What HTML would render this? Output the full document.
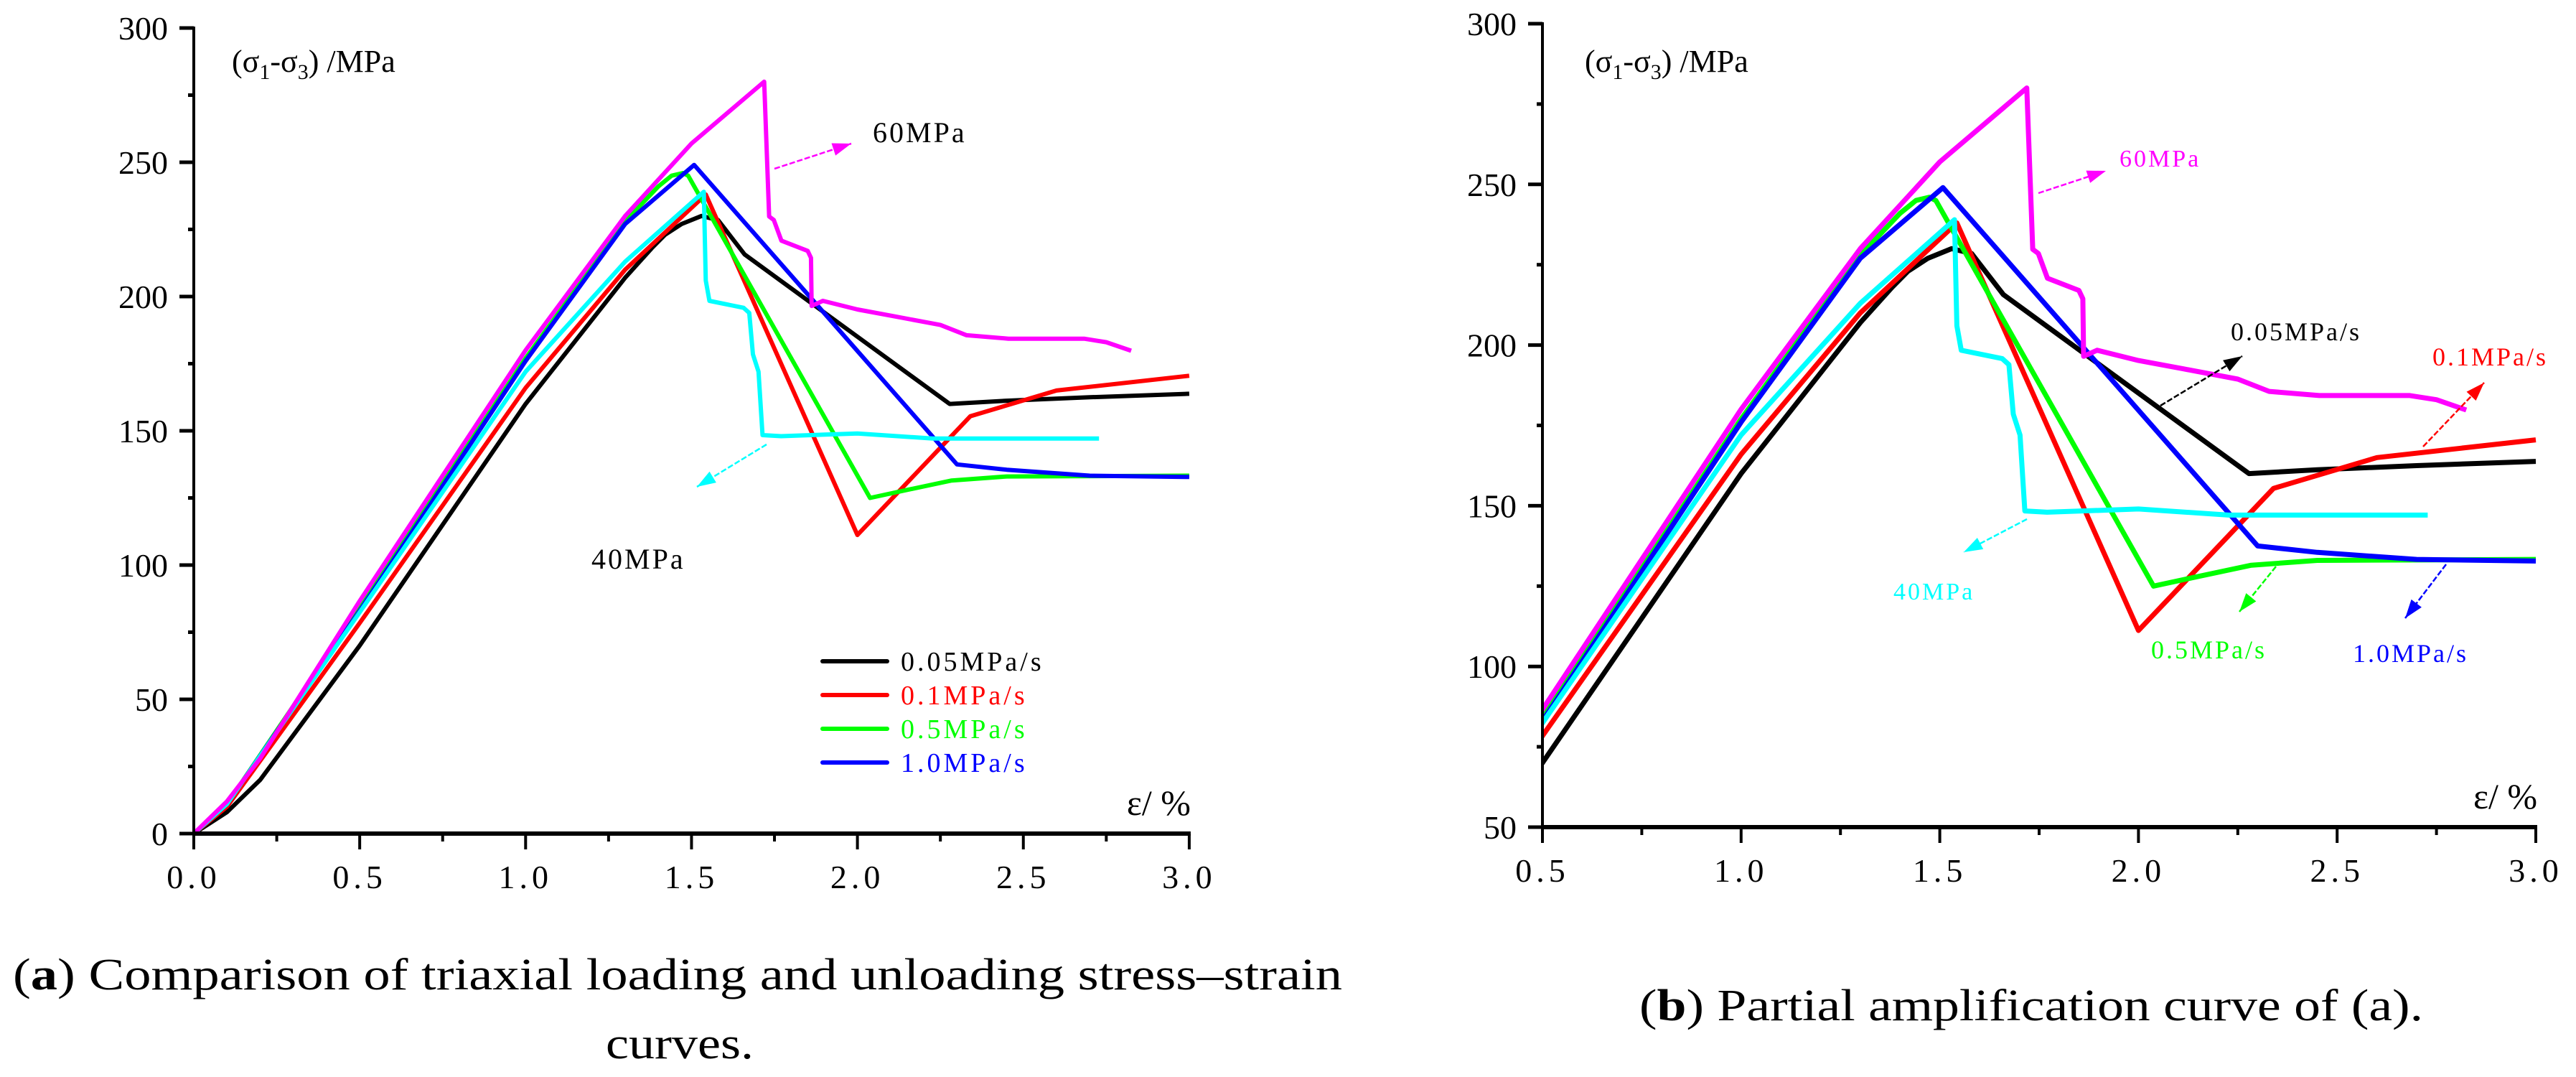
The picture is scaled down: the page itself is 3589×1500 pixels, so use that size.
<!DOCTYPE html>
<html><head><meta charset="utf-8"><style>
html,body{margin:0;padding:0;background:#fff;}
svg{display:block;}
text{font-family:"Liberation Serif","Noto Serif CJK SC",serif;}
</style></head><body>
<svg id="fig" width="3589" height="1500" viewBox="0 0 3589 1500" xmlns="http://www.w3.org/2000/svg">
<defs>
<clipPath id="clipB"><rect x="2149" y="0" width="1440" height="1152"/></clipPath>
</defs>
<g id="panelA"></g>
<g id="panelB"></g>
<g id="annot"></g>
<text x="18" y="1378" font-size="62" textLength="1852" lengthAdjust="spacingAndGlyphs">(<tspan font-weight="bold">a</tspan>) Comparison of triaxial loading and unloading stress–strain</text>
<text x="844" y="1474" font-size="62" textLength="206" lengthAdjust="spacingAndGlyphs">curves.</text>
<text x="2284" y="1421" font-size="62" textLength="1092" lengthAdjust="spacingAndGlyphs">(<tspan font-weight="bold">b</tspan>) Partial amplification curve of (a).</text>
</svg>
<script>
// ---- data (strain %, deviatoric stress MPa) ----
const strain005 = [0,0.1,0.2,0.5,1.0,1.3,1.38,1.42,1.47,1.53,1.58,1.66,2.278,2.45,2.7,3.0];
const stress005 = [0,8,20,70,160,207,218,223,227,230,228.5,215.7,160,161.2,162.5,163.8];
const strain01 = [0,0.1,0.5,1.0,1.3,1.543,2.0,2.34,2.6,3.0];
const stress01 = [0,10,78.4,166,210,238,111.2,155.4,165,170.5];
const strain05 = [0,0.1,0.5,1.0,1.3,1.4,1.44,1.474,1.49,2.038,2.15,2.284,2.45,3.0];
const stress05 = [0,11,84,177,228,241,245,246,245,125,128,131.5,133,133.3];
const strain10 = [0,0.1,0.5,1.0,1.3,1.508,2.30,2.45,2.7,3.0];
const stress10 = [0,11,83,176,227,249,137.5,135.5,133.3,132.8];
const strain40 = [0,0.1,0.5,1.0,1.3,1.537,1.543,1.554,1.657,1.674,1.685,1.702,1.714,1.77,2.0,2.227,2.455,2.728];
const stress40 = [0,11,82.4,172,213,239,206,198.4,195.8,193.9,178.5,172,148.4,148,149,147.1,147.1,147.1];
const strain60 = [0,0.1,0.2,0.5,1.0,1.3,1.5,1.719,1.734,1.748,1.771,1.85,1.86,1.862,1.896,2.0,2.113,2.25,2.329,2.455,2.683,2.75,2.825];
const stress60 = [0,12,28,86.6,180,230,257,280,229.8,228.5,220.8,217,214.4,196.5,198.4,195.2,192.6,189.4,185.6,184.3,184.3,183,179.8];
const xTicksA = ["0.0","0.5","1.0","1.5","2.0","2.5","3.0"];
const yTicksA = ["0","50","100","150","200","250","300"];
const xTicksB = ["0.5","1.0","1.5","2.0","2.5","3.0"];
const yTicksB = ["50","100","150","200","250","300"];
const seriesNames = ["0.05MPa/s","0.1MPa/s","0.5MPa/s","1.0MPa/s"];

const NS="http://www.w3.org/2000/svg";
function mk(tag, parent){const e=document.createElementNS(NS,tag);parent.appendChild(e);return e;}
const series=[
 {n:'curve-0.05mpa-s',x:strain005,y:stress005,c:'#000000'},
 {n:'curve-0.1mpa-s',x:strain01,y:stress01,c:'#ff0000'},
 {n:'curve-0.5mpa-s',x:strain05,y:stress05,c:'#00ff00'},
 {n:'curve-1.0mpa-s',x:strain10,y:stress10,c:'#0000ff'},
 {n:'curve-40mpa',x:strain40,y:stress40,c:'#00ffff'},
 {n:'curve-60mpa',x:strain60,y:stress60,c:'#ff00ff'}
];

function drawPanel(g, cfg){
  const sx=v=>cfg.x0+(v-cfg.xmin)*cfg.px;
  const sy=v=>cfg.y0-(v-cfg.ymin)*cfg.py;
  const cg=mk('g',g);
  
  
  if(cfg.clip) cg.setAttribute('clip-path','url(#'+cfg.clip+')');
  series.forEach(s=>{
    const p=mk('polyline',cg);
    
    
    p.setAttribute('points',s.x.map((v,i)=>sx(v).toFixed(1)+','+sy(s.y[i]).toFixed(1)).join(' '));
    p.setAttribute('fill','none');p.setAttribute('stroke',s.c);
    p.setAttribute('stroke-width',cfg.lw);p.setAttribute('stroke-linejoin','round');
  });
  const xmax=cfg.xmin+(cfg.xt.length-1)*0.5;
  const ymax=+cfg.yt[cfg.yt.length-1];
  const ax=mk('line',g);
  
  
  ax.setAttribute('x1',sx(cfg.xmin));ax.setAttribute('x2',sx(cfg.xmin));
  ax.setAttribute('y1',sy(ymax)-2);ax.setAttribute('y2',sy(cfg.ymin)+2);
  ax.setAttribute('stroke','#000');ax.setAttribute('stroke-width',4);
  const bx=mk('line',g);
  
  
  bx.setAttribute('x1',sx(cfg.xmin)-2);bx.setAttribute('x2',sx(xmax)+2);
  bx.setAttribute('y1',sy(cfg.ymin));bx.setAttribute('y2',sy(cfg.ymin));
  bx.setAttribute('stroke','#000');bx.setAttribute('stroke-width',6);
  cfg.yt.forEach((t,i)=>{
    const v=+t, y=sy(v);
    const tk=mk('line',g);
    
    
    tk.setAttribute('x1',sx(cfg.xmin)-20);tk.setAttribute('x2',sx(cfg.xmin));
    tk.setAttribute('y1',y);tk.setAttribute('y2',y);tk.setAttribute('stroke','#000');tk.setAttribute('stroke-width',5);
    if(i<cfg.yt.length-1){
      const m=mk('line',g);
      
      
      m.setAttribute('x1',sx(cfg.xmin)-8);m.setAttribute('x2',sx(cfg.xmin));
      m.setAttribute('y1',sy(v+25));m.setAttribute('y2',sy(v+25));m.setAttribute('stroke','#000');m.setAttribute('stroke-width',5);
    }
    const tx=mk('text',g);
    
    
    tx.setAttribute('x',sx(cfg.xmin)-36);tx.setAttribute('y',y+16);
    tx.setAttribute('text-anchor','end');tx.setAttribute('font-size',46);
    tx.textContent=t;
  });
  cfg.xt.forEach((t,i)=>{
    const v=+t, x=sx(v);
    const tk=mk('line',g);
    
    
    tk.setAttribute('x1',x);tk.setAttribute('x2',x);
    tk.setAttribute('y1',sy(cfg.ymin));tk.setAttribute('y2',sy(cfg.ymin)+22);tk.setAttribute('stroke','#000');tk.setAttribute('stroke-width',4);
    if(i<cfg.xt.length-1){
      const m=mk('line',g);
      
      
      m.setAttribute('x1',sx(v+0.25));m.setAttribute('x2',sx(v+0.25));
      m.setAttribute('y1',sy(cfg.ymin));m.setAttribute('y2',sy(cfg.ymin)+11);m.setAttribute('stroke','#000');m.setAttribute('stroke-width',4);
    }
    const tx=mk('text',g);
    
    
    tx.setAttribute('x',x);tx.setAttribute('y',sy(cfg.ymin)+cfg.xlabOff);
    tx.setAttribute('text-anchor','middle');tx.setAttribute('font-size',46);
    tx.setAttribute('letter-spacing','6');
    tx.textContent=t;
  });
  const yt=mk('text',g);
  
  
  yt.setAttribute('x',sx(cfg.xmin)+cfg.ytOff);yt.setAttribute('y',100);yt.setAttribute('font-size',44);
  yt.innerHTML='(σ<tspan font-size="30" dy="10">1</tspan><tspan dy="-10">-σ</tspan><tspan font-size="30" dy="10">3</tspan><tspan dy="-10">)  /MPa</tspan>';
  const xtl=mk('text',g);
  
  
  xtl.setAttribute('x',sx(xmax)+2);xtl.setAttribute('y',sy(cfg.ymin)-cfg.xtOff);
  xtl.setAttribute('text-anchor','end');xtl.setAttribute('font-size',50);
  xtl.textContent='ε/ %';
}

drawPanel(document.getElementById('panelA'),{x0:270,y0:1161,xmin:0,ymin:0,px:462.3,py:3.74,xt:xTicksA,yt:yTicksA,lw:6,xlabOff:76,ytOff:53,xtOff:26});
drawPanel(document.getElementById('panelB'),{x0:2149,y0:1152,xmin:0.5,ymin:50,px:553.6,py:4.476,xt:xTicksB,yt:yTicksB,lw:7,xlabOff:76,ytOff:59,xtOff:26,clip:'clipB'});

const lg=mk('g',document.getElementById('panelA'));


seriesNames.forEach((nm,i)=>{
  const y=921+i*47, c=series[i].c;
  const l=mk('line',lg);
  
  
  l.setAttribute('x1',1146);l.setAttribute('x2',1236);l.setAttribute('y1',y);l.setAttribute('y2',y);
  l.setAttribute('stroke',c);l.setAttribute('stroke-width',6);l.setAttribute('stroke-linecap','round');
  const t=mk('text',lg);
  
  
  t.setAttribute('x',1255);t.setAttribute('y',y+13);t.setAttribute('font-size',38);t.setAttribute('letter-spacing','4');
  t.setAttribute('fill',c);t.textContent=nm;
});

const ann=document.getElementById('annot');
function arrow(x1,y1,x2,y2,c,name){
  const g=mk('g',ann);
  
  
  const l=mk('line',g);
  l.setAttribute('x1',x1);l.setAttribute('y1',y1);l.setAttribute('x2',x2);l.setAttribute('y2',y2);
  l.setAttribute('stroke',c);l.setAttribute('stroke-width',2.5);l.setAttribute('stroke-dasharray','8 3');
  const a=Math.atan2(y2-y1,x2-x1),L=26,W=9;
  const bx=x2-L*Math.cos(a),by=y2-L*Math.sin(a);
  const p=mk('polygon',g);
  p.setAttribute('points',[x2,y2,bx+W*Math.sin(a),by-W*Math.cos(a),bx-W*Math.sin(a),by+W*Math.cos(a)].join(','));
  p.setAttribute('fill',c);
}
function label(x,y,txt,c,fs,name){
  const t=mk('text',ann);
  
  
  t.setAttribute('x',x);t.setAttribute('y',y);t.setAttribute('font-size',fs);t.setAttribute('fill',c);t.setAttribute('letter-spacing','3');
  t.textContent=txt;
}
arrow(1079,235,1186,200,'#ff00ff','arrow-60mpa-a');
label(1216,198,'60MPa','#000',40,'label-60mpa-a');
arrow(1068,619,971,678,'#00ffff','arrow-40mpa-a');
label(824,792,'40MPa','#000',40,'label-40mpa-a');
arrow(2840,269,2934,238,'#ff00ff','arrow-60mpa-b');
label(2953,232,'60MPa','#ff00ff',34,'label-60mpa-b');
arrow(3010,565,3124,496,'#000','arrow-0.05mpa-s-b');
label(3108,474,'0.05MPa/s','#000',36,'label-0.05mpa-s-b');
arrow(3376,622,3461,533,'#ff0000','arrow-0.1mpa-s-b');
label(3389,509,'0.1MPa/s','#ff0000',36,'label-0.1mpa-s-b');
arrow(2824,723,2736,769,'#00ffff','arrow-40mpa-b');
label(2638,835,'40MPa','#00ffff',34,'label-40mpa-b');
arrow(3171,789,3120,852,'#00ff00','arrow-0.5mpa-s-b');
label(2997,917,'0.5MPa/s','#00ff00',36,'label-0.5mpa-s-b');
arrow(3408,786,3351,861,'#0000ff','arrow-1.0mpa-s-b');
label(3278,922,'1.0MPa/s','#0000ff',36,'label-1.0mpa-s-b');
</script>
</body></html>
